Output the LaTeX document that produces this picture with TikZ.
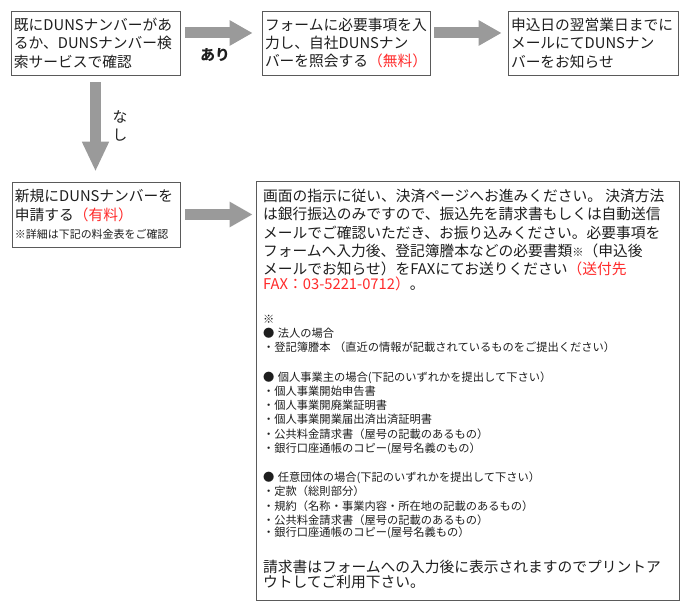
\documentclass[tikz,border=0pt]{standalone}
\usepackage{fontspec}
\setmainfont{Noto Sans CJK JP}
\usetikzlibrary{arrows.meta}

\definecolor{framegray}{HTML}{5A5A5A}
\definecolor{flowgray}{HTML}{9A9A9A}
\definecolor{feered}{HTML}{FF2A2A}
\definecolor{inkblack}{HTML}{1E1E1E}
\newcommand{\fee}[1]{{\color{feered}#1}}
\newcommand{\bigtext}{\fontsize{14.8}{18.3}\selectfont}
\newcommand{\smalltext}{\fontsize{11.3}{14.3}\selectfont}

\begin{document}
\begin{tikzpicture}[x=1bp, y=-1bp,
	stepbox/.style={draw=framegray, line width=0.8bp, inner xsep=3bp, inner ysep=0pt, align=left, text=inkblack, font=\fontsize{14.8}{18.5}\selectfont},
	flow/.style={draw=flowgray, line width=11bp, -{Triangle[length=23bp,width=24bp]}},
	tag/.style={text=inkblack, inner sep=0pt, font=\bigtext},
	block/.style={anchor=base west, inner sep=0pt, align=left, text=inkblack}]
		\path[use as bounding box, fill=white] (0,0) rectangle (690,613);
		
		%top row
		\node[stepbox, minimum width=169bp, minimum height=64bp, text width=163bp] (check) at (95.5,43) {既にDUNSナンバーがあ\\るか、DUNSナンバー検\\索サービスで確認};
		\node[stepbox, minimum width=168bp, minimum height=64bp, text width=162bp] (lookup) at (346,43) {フォームに必要事項を入\\力し、自社DUNSナン\\バーを照会する\fee{（無料）}};
		\node[stepbox, minimum width=170bp, minimum height=64bp, text width=164bp] (notify) at (593,43) {申込日の翌営業日までに\\メールにてDUNSナン\\バーをお知らせ};
		
		%new application
		\node[stepbox, minimum width=168bp, minimum height=65bp, text width=162bp] (apply) at (96,214.5) {新規にDUNSナンバーを\\申請する\fee{（有料）}\\\fontsize{11}{14.6}\selectfont ※詳細は下記の料金表をご確認};
		\node[draw=framegray, line width=0.8bp, minimum width=423bp, minimum height=419bp, inner sep=0pt] (pay) at (467.5,390.5) {};
		
		%payment text
		\node[block, text width=415bp] (steps) at (263,201.6) {\bigtext 画面の指示に従い、決済ページへお進みください。 決済方法\\は銀行振込のみですので、振込先を請求書もしくは自動送信\\メールでご確認いただき、お振り込みください。必要事項を\\フォームへ入力後、登記簿謄本などの必要書類{\smalltext ※}（申込後\\メールでお知らせ）をFAXにてお送りください\fee{（送付先}\\\fee{FAX：03-5221-0712）}。};
		\node[block, text width=415bp] (papers) at (263,323.5) {\smalltext ※\\
			● 法人の場合\\
			・登記簿謄本 （直近の情報が記載されているものをご提出ください）\\[15bp]
			● 個人事業主の場合(下記のいずれかを提出して下さい）\\
			・個人事業開始申告書\\
			・個人事業開廃業証明書\\
			・個人事業開業届出済出済証明書\\
			・公共料金請求書（屋号の記載のあるもの）\\
			・銀行口座通帳のコピー(屋号名義のもの）\\[15bp]
			● 任意団体の場合(下記のいずれかを提出して下さい）\\
			・定款（総則部分）\\
			・規約（名称・事業内容・所在地の記載のあるもの）\\
			・公共料金請求書（屋号の記載のあるもの）\\
			・銀行口座通帳のコピー(屋号名義もの）};
		\node[block, text width=415bp] (invoice) at (263,572.5) {\bigtext 請求書はフォームへの入力後に表示されますのでプリントア\\ウトしてご利用下さい。};
		
		%arrows
		\draw[flow, shorten <=5bp, shorten >=9bp] ([yshift=10bp]check.east) -- ([yshift=10bp]lookup.west);
		\draw[flow, shorten <=4bp, shorten >=6bp] ([yshift=10bp]lookup.east) -- ([yshift=10bp]notify.west);
		\draw[flow, -{Triangle[length=30bp,width=25bp]}, shorten <=7bp, shorten >=10bp] (check.south) -- (check.south |- apply.north);
		\draw[flow, shorten <=5bp, shorten >=3bp] (apply.east) -- (apply.east -| pay.west);
		
		%labels
		\node[tag, font=\bigtext\bfseries] (yes) at (215,55) {あり};
		\node[tag, align=center] (no) at (120,126) {な\\し};
		
\end{tikzpicture}
\end{document}
